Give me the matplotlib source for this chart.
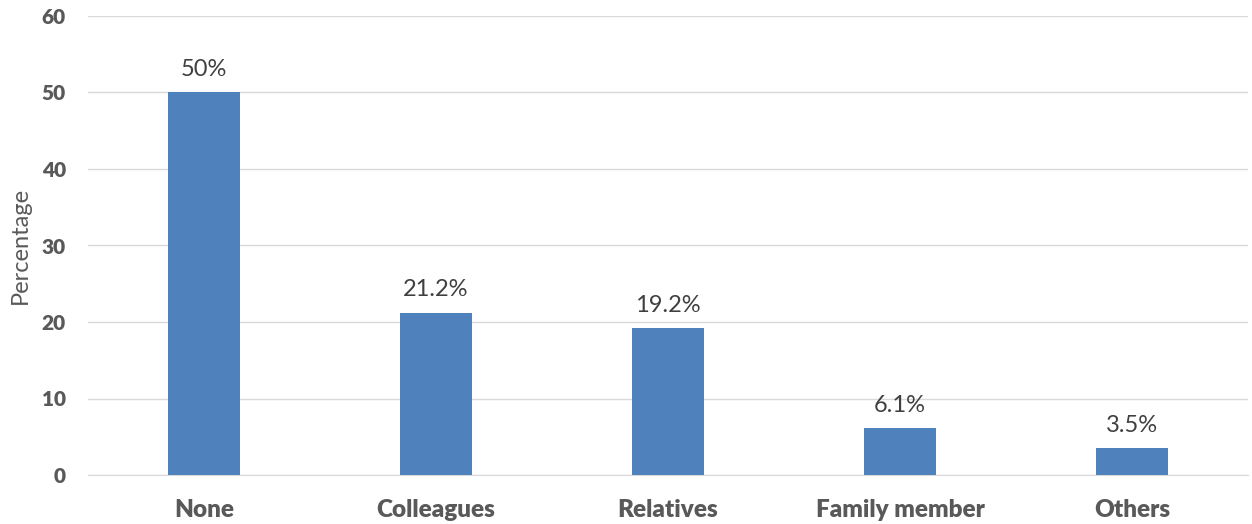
import matplotlib
matplotlib.use('Agg')
import matplotlib.pyplot as plt

# Data
categories = ['None', 'Colleagues', 'Relatives', 'Family member', 'Others']
values = [50, 21.2, 19.2, 6.1, 3.5]
labels = ['50%', '21.2%', '19.2%', '6.1%', '3.5%']
yticks = [0, 10, 20, 30, 40, 50, 60]

plt.rcParams['font.family'] = ['Lato', 'DejaVu Sans']

fig = plt.figure(figsize=(12.52, 5.24), dpi=100)
ax = fig.add_axes([88 / 1252, 49 / 524, 1160 / 1252, 459 / 524])

x = range(len(categories))
ax.bar(x, values, width=0.31, color='#4F81BD', zorder=3)

for xi, v, lab in zip(x, values, labels):
    ax.annotate(lab, (xi, v), xytext=(0, 9), textcoords='offset points',
                ha='center', va='bottom', fontsize=17, color='#404040')

ax.set_xlim(-0.5, len(categories) - 0.5)
ax.set_ylim(0, 60)
ax.set_yticks(yticks)
ax.set_xticks(list(x))
ax.set_xticklabels(categories, fontsize=17.5, fontweight=800, color='#595959')
ax.set_yticklabels([str(t) for t in yticks], fontsize=15, fontweight=800, color='#595959')
ax.set_ylabel('Percentage', fontsize=17, color='#595959', labelpad=8)

ax.grid(axis='y', color='#D9D9D9', linewidth=1, zorder=0)
for s in ['top', 'right', 'left']:
    ax.spines[s].set_visible(False)
ax.spines['bottom'].set_color('#D9D9D9')
ax.tick_params(axis='x', length=0, pad=17)
ax.tick_params(axis='y', length=0, pad=16)

fig.savefig('out.png', dpi=100)
